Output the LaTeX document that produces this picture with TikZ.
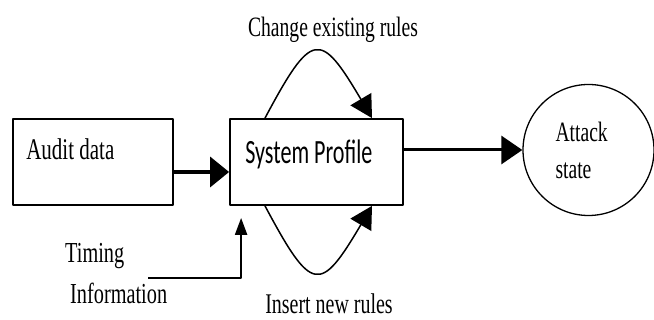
\documentclass[tikz,border=0pt]{standalone}
\usepackage{fontspec}
\setmainfont[FakeStretch=0.7]{Liberation Serif}
\newfontfamily\calib[FakeStretch=0.65]{Carlito}
\usetikzlibrary{arrows.meta}
\begin{document}
\begin{tikzpicture}[x=1pt,y=1pt,line join=round,
		box/.style={draw,line width=1.8pt,minimum width=160pt,minimum height=86pt,inner sep=0pt},
		txt/.style={inner sep=0pt,font=\fontsize{28}{37}\selectfont},
		bigtip/.style={-{Triangle[length=19pt,width=30pt]}},
		looptip/.style={-{Triangle[length=22pt,width=24pt]}}]
	\useasboundingbox (0,0) rectangle (654,320);
	\node[box,label={[txt,font=\fontsize{30}{36}\selectfont,anchor=base west,xshift=14pt,yshift=-41pt]north west:Audit data}] (audit) at (93,158) {};
	\node[box,minimum width=173pt,label={[txt,font=\calib\fontsize{34}{40}\selectfont,anchor=base west,xshift=16pt,yshift=-45pt]north west:System Profile}] (prof) at (316.5,158) {};
	\node[txt,draw,circle,line width=1.3pt,minimum size=131pt,align=left,text width=66pt] (att) at (588.5,170) {Attack\\state};
	\node[txt,anchor=base] (chg) at (333,283) {Change existing rules};
	\node[txt,anchor=base,font=\fontsize{28.5}{34}\selectfont] (ins) at (329,6) {Insert new rules};
	\node[txt,anchor=north west,align=left,font=\fontsize{29}{41}\selectfont] (timing) at (65,77) {Timing\\\hspace*{5pt}Information};
	\coordinate (tstart) at (148,42);
	\draw[line width=3.5pt,bigtip] ([yshift=-10pt]audit.east) -- ([yshift=-10pt]prof.west);
	\draw[line width=3pt,-{Triangle[length=21pt,width=28pt]}] (prof.east |- att.west) -- (att.west);
	\draw[line width=1.5pt,looptip] ([xshift=-51.5pt]prof.north) .. controls +(47pt,88pt) and +(-52pt,88pt) .. ([xshift=55.5pt]prof.north);
	\draw[line width=1.5pt,looptip] ([xshift=-51.5pt]prof.south) .. controls +(47pt,-88pt) and +(-52pt,-88pt) .. ([xshift=55.5pt]prof.south);
	\draw[line width=2.2pt,-{Triangle[length=17pt,width=12pt]}] (tstart) -| ([shift={(12pt,-12pt)}]prof.south west);
\end{tikzpicture}
\end{document}
